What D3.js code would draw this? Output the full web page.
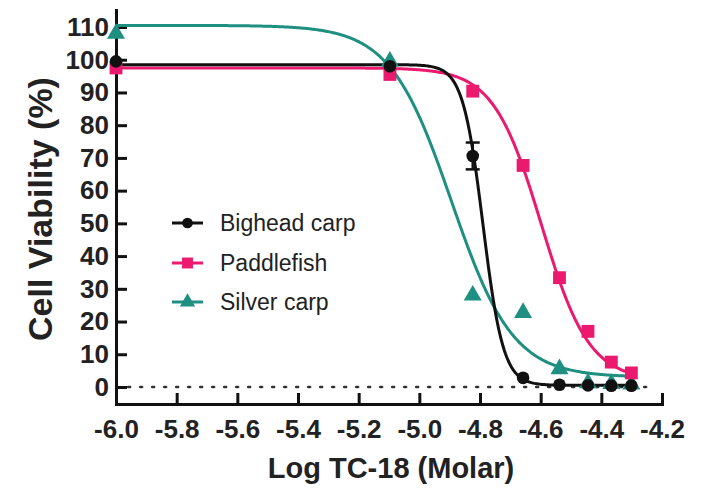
<!DOCTYPE html>
<html>
<head>
<meta charset="utf-8">
<script src="https://cdn.jsdelivr.net/npm/d3@7"></script>
<style>
  html, body { margin: 0; padding: 0; background: #fff; }
  svg { display: block; }
</style>
</head>
<body>
<svg id="chart" width="707" height="490"></svg>
<script>
// ---------------- data ----------------
const logConc = [-6.0, -5.097, -4.824, -4.658, -4.538, -4.444, -4.367, -4.301];
const seriesNames = ["Bighead carp", "Paddlefish", "Silver carp"];
const bigheadValues   = [99.5, 98.0, 70.6, 2.8, 0.7, 0.5, 0.4, 0.4];
const bigheadErrors   = [0, 0, 4.1, 0, 0, 0, 0, 0];
const paddlefishValues = [97.5, 95.5, 90.4, 67.7, 33.4, 17.0, 7.6, 4.3];
const silverValues    = [108.0, 99.5, 28.0, 22.7, 5.5, 1.2, 1.0, 0.8];
// four-parameter logistic fit parameters: [top, bottom, logIC50, hill slope]
const bigheadFit    = [98.5, 0.5, -4.79, 13];
const paddlefishFit = [97.5, 2.0, -4.598, 5.5];
const silverFit     = [110.5, 3.0, -4.894, 4.29];
const xTicks = [-6.0, -5.8, -5.6, -5.4, -5.2, -5.0, -4.8, -4.6, -4.4, -4.2];
const yTicks = [0, 10, 20, 30, 40, 50, 60, 70, 80, 90, 100, 110];
const colors = ["#111111", "#ec1a6f", "#1f8f82"];
const symbols = ["circle", "square", "triangle"];
const xTitle = "Log TC-18 (Molar)";
const yTitle = "Cell Viability (%)";

// ---------------- layout ----------------
const svg = d3.select("#chart");
const x = d3.scaleLinear().domain([-6.0, -4.2]).range([116, 662]);
const y = d3.scaleLinear().domain([-5.2, 115.2]).range([404, 10]);

const series = [
  { name: seriesNames[0], values: bigheadValues, errors: bigheadErrors, fit: bigheadFit },
  { name: seriesNames[1], values: paddlefishValues, errors: null, fit: paddlefishFit },
  { name: seriesNames[2], values: silverValues, errors: null, fit: silverFit }
];

const logistic = (p, xv) => p[1] + (p[0] - p[1]) / (1 + Math.pow(10, (xv - p[2]) * p[3]));

// zero dotted reference line
svg.append("line")
  .attr("x1", x(-5.96)).attr("x2", x(-4.22))
  .attr("y1", y(0)).attr("y2", y(0))
  .attr("stroke", "#333").attr("stroke-width", 2.5)
  .attr("stroke-dasharray", "2,10").attr("stroke-linecap", "round");

// axes
const font = "'Liberation Sans', Arial, Helvetica, sans-serif";
const yAxis = svg.append("g").attr("transform", `translate(${x(-6.0)},0)`)
  .call(d3.axisLeft(y).tickValues(yTicks).tickSizeInner(-11).tickSizeOuter(0).tickPadding(7)
    .tickFormat(d => String(d)));
const xAxis = svg.append("g").attr("transform", `translate(0,${y(-5.2)})`)
  .call(d3.axisBottom(x).tickValues(xTicks).tickSizeInner(-11).tickSizeOuter(0).tickPadding(16)
    .tickFormat(d => d.toFixed(1)));
[xAxis, yAxis].forEach(a => {
  a.select(".domain").attr("stroke", "#111").attr("stroke-width", 3).attr("stroke-linecap", "square");
  a.selectAll(".tick line").attr("stroke", "#111").attr("stroke-width", 3);
  a.selectAll(".tick text").attr("fill", "#222").attr("font-family", font)
    .attr("font-weight", "bold").attr("font-size", 26);
});
xAxis.selectAll(".tick").filter(d => d === -6.0).select("line").remove();

// axis titles
svg.append("text").attr("x", 391).attr("y", 478).attr("text-anchor", "middle")
  .attr("font-family", font).attr("font-weight", "bold").attr("font-size", 29).attr("fill", "#222")
  .text(xTitle);
svg.append("text").attr("transform", "translate(52,209) rotate(-90)").attr("text-anchor", "middle")
  .attr("font-family", font).attr("font-weight", "bold").attr("font-size", 34).attr("fill", "#222")
  .text(yTitle);

// fitted curves
const line = d3.line().x(d => x(d[0])).y(d => y(d[1])).curve(d3.curveLinear);
const drawOrder = [2, 1, 0];
drawOrder.forEach(i => {
  const s = series[i];
  const pts = d3.range(-6.0, -4.3005, 0.004).map(xv => [xv, logistic(s.fit, xv)]);
  pts.push([-4.301, logistic(s.fit, -4.301)]);
  svg.append("path").datum(pts).attr("d", line)
    .attr("fill", "none").attr("stroke", colors[i]).attr("stroke-width", 3);
});

// error bars
series.forEach((s, i) => {
  if (!s.errors) return;
  s.errors.forEach((e, j) => {
    if (!e) return;
    const g = svg.append("g").attr("stroke", colors[i]).attr("stroke-width", 2.5);
    const cx = x(logConc[j]);
    g.append("line").attr("x1", cx).attr("x2", cx).attr("y1", y(s.values[j] - e)).attr("y2", y(s.values[j] + e));
    [s.values[j] - e, s.values[j] + e].forEach(v =>
      g.append("line").attr("x1", cx - 7).attr("x2", cx + 7).attr("y1", y(v)).attr("y2", y(v)));
  });
});

// markers
const symbolFor = {
  circle: d3.symbol().type(d3.symbolCircle).size(125),
  square: d3.symbol().type(d3.symbolSquare).size(165),
  triangle: d3.symbol().type(d3.symbolTriangle).size(140)
};
const drawMarker = (g, i, cx, cy, scale = 1) =>
  g.append("path").attr("d", symbolFor[symbols[i]]())
    .attr("transform", `translate(${cx},${cy}) scale(${scale})`).attr("fill", colors[i]);

drawOrder.forEach(i => {
  const s = series[i];
  const g = svg.append("g");
  s.values.forEach((v, j) => drawMarker(g, i, x(logConc[j]), y(v)));
});

// legend
const legendY = [223, 263, 302];
series.forEach((s, i) => {
  const g = svg.append("g");
  g.append("line").attr("x1", 172).attr("x2", 203).attr("y1", legendY[i]).attr("y2", legendY[i])
    .attr("stroke", colors[i]).attr("stroke-width", 3);
  drawMarker(g, i, 187.5, legendY[i], 0.85);
  g.append("text").attr("x", 220).attr("y", legendY[i] + 8)
    .attr("font-family", font).attr("font-size", 23).attr("fill", "#222").text(s.name);
});
</script>
</body>
</html>
